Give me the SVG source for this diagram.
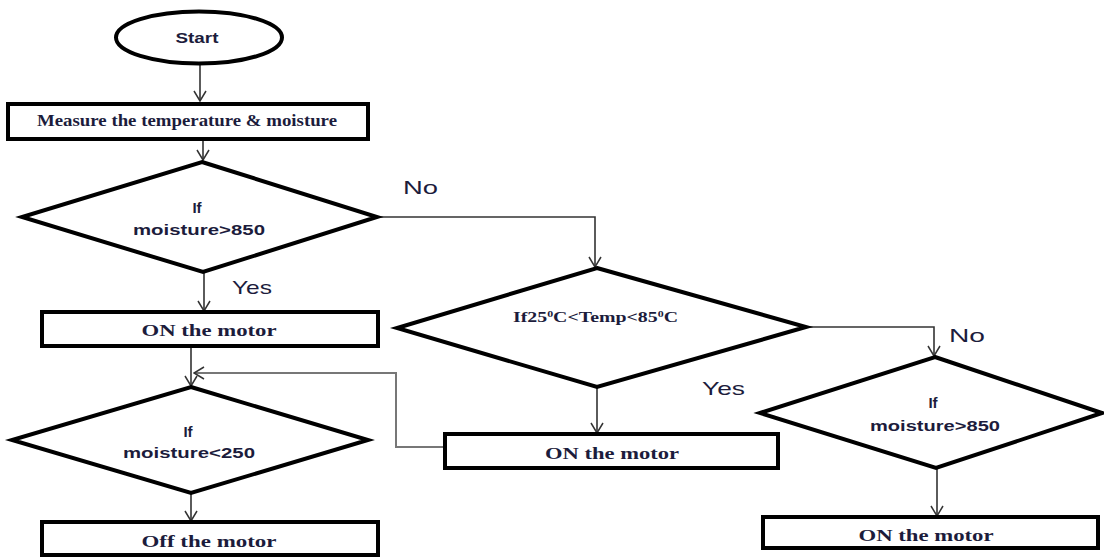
<svg xmlns="http://www.w3.org/2000/svg" width="1104" height="557" viewBox="0 0 1104 557">
<defs>
<style>
.shape{fill:#fff;stroke:#000;stroke-width:4;stroke-linejoin:miter}
.conn{fill:none;stroke:#333;stroke-width:1.6}
.gray{fill:none;stroke:#777;stroke-width:2}
.serif{font-family:"Liberation Serif","Times New Roman",serif;font-weight:bold;fill:#1c1c3c}
.sans{font-family:"Liberation Sans",Arial,sans-serif;font-weight:bold;fill:#1c1c3c}
.lbl{font-family:"Liberation Sans",Arial,sans-serif;fill:#1c1c3c;font-size:19px}
</style>
<marker id="arr" viewBox="0 0 12 14" refX="11" refY="7" markerWidth="12" markerHeight="14" markerUnits="userSpaceOnUse" orient="auto">
<path d="M1,1 L11,7 L1,13" fill="none" stroke="#333" stroke-width="1.5"/>
</marker>
</defs>
<rect width="1104" height="557" fill="#fff"/>

<g id="connectors">
<line class="conn" x1="200" y1="65" x2="200" y2="101" marker-end="url(#arr)"/>
<line class="conn" x1="203" y1="140" x2="203" y2="160" marker-end="url(#arr)"/>
<line class="conn" x1="204" y1="272" x2="204" y2="311" marker-end="url(#arr)"/>
<path class="conn" d="M377,217 H595 V267" marker-end="url(#arr)"/>
<line class="conn" x1="191" y1="346" x2="191" y2="386" marker-end="url(#arr)"/>
<line class="conn" x1="597" y1="387" x2="597" y2="433" marker-end="url(#arr)"/>
<path class="gray" d="M445,447 H396 V373 H194" marker-end="url(#arr)"/>
<path class="conn" d="M805,327 H934 V356" marker-end="url(#arr)"/>
<line class="conn" x1="191" y1="493" x2="191" y2="521" marker-end="url(#arr)"/>
<line class="conn" x1="937" y1="468" x2="937" y2="516" marker-end="url(#arr)"/>
<text class="lbl" x="232" y="294" textLength="40" lengthAdjust="spacingAndGlyphs">Yes</text>
<text class="lbl" x="403" y="194" textLength="35" lengthAdjust="spacingAndGlyphs">No</text>
<text class="lbl" x="702" y="395" textLength="43" lengthAdjust="spacingAndGlyphs">Yes</text>
<text class="lbl" x="949" y="342" textLength="36" lengthAdjust="spacingAndGlyphs">No</text>
</g>

<g id="start">
<ellipse class="shape" cx="199" cy="37.5" rx="83" ry="26"/>
<text class="sans" x="197" y="43" font-size="15" text-anchor="middle" textLength="43" lengthAdjust="spacingAndGlyphs">Start</text>
</g>

<g id="measure">
<rect class="shape" x="8" y="104" width="360" height="35"/>
<text class="serif" x="187" y="126" font-size="16" text-anchor="middle" textLength="300" lengthAdjust="spacingAndGlyphs">Measure the temperature &amp; moisture</text>
</g>

<g id="decision1">
<polygon class="shape" points="202,162 377,217 203,272 22,217"/>
<text class="sans" x="197" y="213" font-size="15" text-anchor="middle">If</text>
<text class="sans" x="199" y="235" font-size="15" text-anchor="middle" textLength="132" lengthAdjust="spacingAndGlyphs">moisture&gt;850</text>
</g>

<g id="on1">
<rect class="shape" x="42" y="312" width="336" height="34"/>
<text class="serif" x="209" y="336" font-size="17" text-anchor="middle" textLength="135" lengthAdjust="spacingAndGlyphs">ON the motor</text>
</g>

<g id="decision2">
<polygon class="shape" points="191,387 368,440 191,493 12,440"/>
<text class="sans" x="188" y="437" font-size="15" text-anchor="middle">If</text>
<text class="sans" x="189" y="458" font-size="15" text-anchor="middle" textLength="132" lengthAdjust="spacingAndGlyphs">moisture&lt;250</text>
</g>

<g id="off">
<rect class="shape" x="42" y="522" width="336" height="33"/>
<text class="serif" x="209" y="547" font-size="17" text-anchor="middle" textLength="135" lengthAdjust="spacingAndGlyphs">Off the motor</text>
</g>

<g id="decision3">
<polygon class="shape" points="597,268 806,327 597,387 397,328"/>
<text class="serif" x="513" y="322" font-size="15" textLength="165" lengthAdjust="spacingAndGlyphs">If25<tspan font-size="9" dy="-5">0</tspan><tspan dy="5">C&lt;Temp&lt;85</tspan><tspan font-size="9" dy="-5">0</tspan><tspan dy="5">C</tspan></text>
</g>

<g id="on2">
<rect class="shape" x="445" y="434" width="333" height="34"/>
<text class="serif" x="612" y="459" font-size="17" text-anchor="middle" textLength="134" lengthAdjust="spacingAndGlyphs">ON the motor</text>
</g>

<g id="decision4">
<polygon class="shape" points="935,357 1102,413 936,468 760,413"/>
<text class="sans" x="933" y="408" font-size="15" text-anchor="middle">If</text>
<text class="sans" x="935" y="431" font-size="15" text-anchor="middle" textLength="130" lengthAdjust="spacingAndGlyphs">moisture&gt;850</text>
</g>

<g id="on4">
<rect class="shape" x="763" y="517" width="335" height="31"/>
<text class="serif" x="926" y="541" font-size="17" text-anchor="middle" textLength="135" lengthAdjust="spacingAndGlyphs">ON the motor</text>
</g>
</svg>
